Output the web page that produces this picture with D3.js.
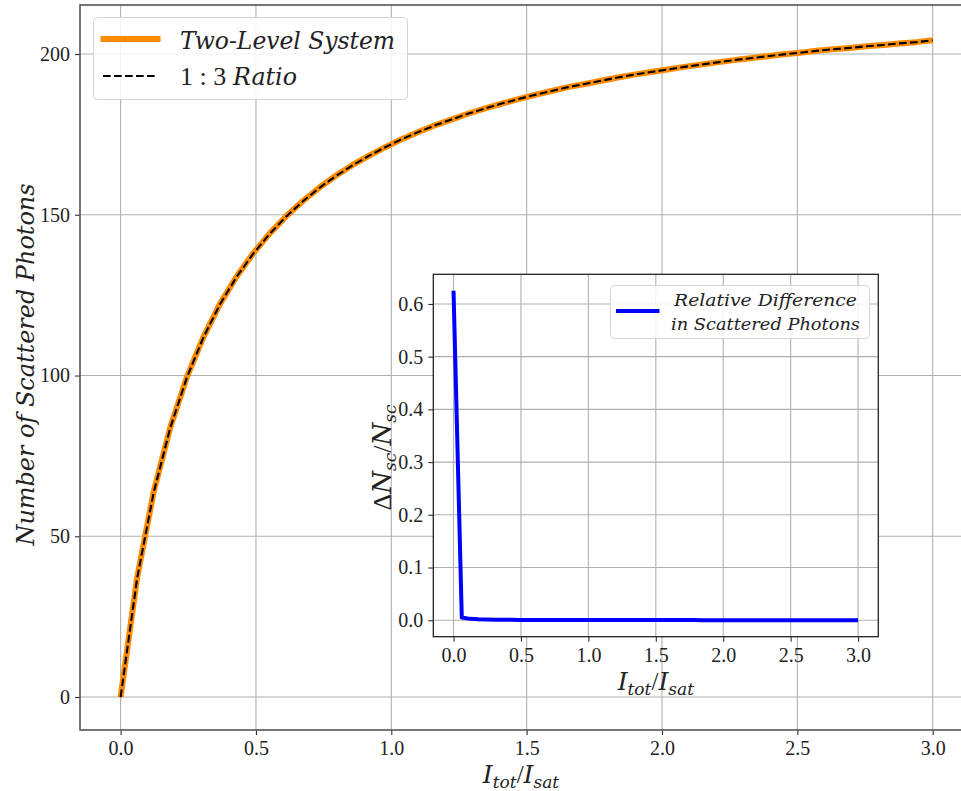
<!DOCTYPE html>
<html><head><meta charset="utf-8">
<script src="https://cdn.jsdelivr.net/npm/d3@7"></script>
<style>body{margin:0;background:#fff;overflow:hidden} text{font-family:"Liberation Serif","DejaVu Serif",serif;fill:#222;} .it{font-family:"DejaVu Serif",serif;font-style:italic;}</style>
</head><body><svg id="c" width="961" height="791"></svg>
<script>
// ---- data ----
const xValues = [0, 0.0612, 0.1224, 0.1837, 0.2449, 0.3061, 0.3673, 0.4286, 0.4898, 0.5510,
  0.6122, 0.6735, 0.7347, 0.7959, 0.8571, 0.9184, 0.9796, 1.0408, 1.1020, 1.1633,
  1.2245, 1.2857, 1.3469, 1.4082, 1.4694, 1.5306, 1.5918, 1.6531, 1.7143, 1.7755,
  1.8367, 1.8980, 1.9592, 2.0204, 2.0816, 2.1429, 2.2041, 2.2653, 2.3265, 2.3878,
  2.4490, 2.5102, 2.5714, 2.6327, 2.6939, 2.7551, 2.8163, 2.8776, 2.9388, 3.0];
const twoLevel = [0, 37.2, 63.9, 83.9, 99.5, 112.0, 122.3, 130.8, 138.0, 144.2,
  149.6, 154.3, 158.5, 162.2, 165.5, 168.4, 171.1, 173.6, 175.8, 177.9,
  179.7, 181.5, 183.1, 184.6, 186.0, 187.3, 188.5, 189.7, 190.7, 191.7,
  192.7, 193.6, 194.4, 195.2, 196.0, 196.7, 197.4, 198.1, 198.7, 199.3,
  199.9, 200.4, 201.0, 201.5, 201.9, 202.4, 202.8, 203.3, 203.7, 204.3];
const ratio13 = [0, 37.0, 63.7, 83.8, 99.4, 111.9, 122.2, 130.7, 137.9, 144.1,
  149.5, 154.2, 158.4, 162.1, 165.4, 168.4, 171.1, 173.6, 175.8, 177.9,
  179.7, 181.5, 183.1, 184.6, 186.0, 187.3, 188.5, 189.7, 190.7, 191.7,
  192.7, 193.6, 194.4, 195.2, 196.0, 196.7, 197.4, 198.1, 198.7, 199.3,
  199.9, 200.4, 201.0, 201.5, 201.9, 202.4, 202.8, 203.3, 203.7, 204.3];
const relDiff = [0.625, 0.005, 0.0026, 0.0017, 0.0013, 0.0010, 0.0008, 0.0007, 0.0006, 0.0005,
  0.0005, 0.0004, 0.0004, 0.0004, 0.0003, 0.0003, 0.0003, 0.0003, 0.0003, 0.0002,
  0.0002, 0.0002, 0.0002, 0.0002, 0.0002, 0.0002, 0.0002, 0.0002, 0.0002, 0.0002,
  0.0001, 0.0001, 0.0001, 0.0001, 0.0001, 0.0001, 0.0001, 0.0001, 0.0001, 0.0001,
  0.0001, 0.0001, 0.0001, 0.0001, 0.0001, 0.0001, 0.0001, 0.0001, 0.0001, 0.0001];
const mainXTicks = [0, 0.5, 1.0, 1.5, 2.0, 2.5, 3.0];
const mainYTicks = [0, 50, 100, 150, 200];
const insetXTicks = [0, 0.5, 1.0, 1.5, 2.0, 2.5, 3.0];
const insetYTicks = [0, 0.1, 0.2, 0.3, 0.4, 0.5, 0.6];
const legendMain = ["Two-Level System", "1 : 3 ", "Ratio"];
const legendInset = ["Relative Difference", "in Scattered Photons"];
const yLabelMain = "Number of Scattered Photons";

const svg = d3.select("#c");
const GRID = "#b0b0b0";

// ---- main axes ----
const M = {l: 80, r: 973.3, t: 5, b: 730};
const x = d3.scaleLinear().domain([-0.15, 3.15]).range([M.l, M.r]);
const y = d3.scaleLinear().domain([-10.25, 215.25]).range([M.b, M.t]);

const gMain = svg.append("g");
gMain.append("g").selectAll("line").data(mainXTicks).join("line")
  .attr("x1", d => x(d)).attr("x2", d => x(d)).attr("y1", M.t).attr("y2", M.b)
  .attr("stroke", GRID).attr("stroke-width", 1.1);
gMain.append("g").selectAll("line").data(mainYTicks).join("line")
  .attr("y1", d => y(d)).attr("y2", d => y(d)).attr("x1", M.l).attr("x2", M.r)
  .attr("stroke", GRID).attr("stroke-width", 1.1);

const lineMain = d3.line().x((d, i) => x(xValues[i])).y(d => y(d));
gMain.append("path").datum(twoLevel).attr("d", lineMain)
  .attr("fill", "none").attr("stroke", "#ff8c00").attr("stroke-width", 6).attr("stroke-linejoin", "round");
gMain.append("path").datum(ratio13).attr("d", lineMain)
  .attr("fill", "none").attr("stroke", "#000").attr("stroke-width", 2.1).attr("stroke-dasharray", "7.7,3.3");

const xAxisMain = d3.axisBottom(x).tickValues(mainXTicks).tickFormat(d3.format(".1f")).tickSize(5).tickPadding(6);
const yAxisMain = d3.axisLeft(y).tickValues(mainYTicks).tickFormat(d3.format("d")).tickSize(5).tickPadding(5);
const gx = gMain.append("g").attr("transform", `translate(0,${M.b})`).call(xAxisMain);
const gy = gMain.append("g").attr("transform", `translate(${M.l},0)`).call(yAxisMain);
[gx, gy].forEach(g => {
  g.select(".domain").remove();
  g.selectAll(".tick line").attr("stroke", "#333").attr("stroke-width", 1.1);
  g.selectAll(".tick text").attr("font-size", 20).attr("fill", "#222").attr("font-family", "Liberation Serif");
});
gMain.append("rect").attr("x", M.l).attr("y", M.t).attr("width", M.r - M.l).attr("height", M.b - M.t)
  .attr("fill", "none").attr("stroke", "#555").attr("stroke-width", 1.6);

// main labels
function ratioLabel(g, cx, by, size, sub) {
  const t = g.append("text").attr("x", cx).attr("y", by).attr("text-anchor", "middle").attr("font-size", size);
  t.append("tspan").attr("class", "it").text("I");
  t.append("tspan").attr("class", "it").attr("font-size", sub).attr("dy", 5).text("tot");
  t.append("tspan").attr("dy", -5).text("/");
  t.append("tspan").attr("class", "it").text("I");
  t.append("tspan").attr("class", "it").attr("font-size", sub).attr("dy", 5).text("sat");
  return t;
}
ratioLabel(gMain, 521, 783, 25, 17);

gMain.append("text").attr("class", "it").attr("transform", `translate(34,${(M.t + M.b) / 2 - 3}) rotate(-90)`)
  .attr("text-anchor", "middle").attr("font-size", 24)
  .attr("textLength", 362).attr("lengthAdjust", "spacingAndGlyphs").text(yLabelMain);

// main legend
const lg = gMain.append("g");
lg.append("rect").attr("x", 93.5).attr("y", 17.5).attr("width", 314).attr("height", 82).attr("rx", 4)
  .attr("fill", "#fff").attr("fill-opacity", 0.85).attr("stroke", "#d5d5d5").attr("stroke-width", 1);
lg.append("line").attr("x1", 100.5).attr("x2", 160.5).attr("y1", 39).attr("y2", 39)
  .attr("stroke", "#ff8c00").attr("stroke-width", 6);
lg.append("line").attr("x1", 103).attr("x2", 158).attr("y1", 76).attr("y2", 76)
  .attr("stroke", "#000").attr("stroke-width", 2.1).attr("stroke-dasharray", "7.7,3.3");
lg.append("text").attr("class", "it").attr("x", 180).attr("y", 48.5).attr("font-size", 24)
  .attr("textLength", 215).attr("lengthAdjust", "spacingAndGlyphs").text(legendMain[0]);
lg.append("text").attr("x", 180).attr("y", 85).attr("font-size", 26).text(legendMain[1]);
lg.append("text").attr("class", "it").attr("x", 233).attr("y", 85).attr("font-size", 24)
  .attr("textLength", 64).attr("lengthAdjust", "spacingAndGlyphs").text(legendMain[2]);

// ---- inset axes ----
const I = {l: 433.3, r: 878.3, t: 274.3, b: 636.7};
const xi = d3.scaleLinear().domain([-0.15, 3.15]).range([I.l, I.r]);
const yi = d3.scaleLinear().domain([-0.03125, 0.65625]).range([I.b, I.t]);
const gIn = svg.append("g");
gIn.append("rect").attr("x", I.l).attr("y", I.t).attr("width", I.r - I.l).attr("height", I.b - I.t).attr("fill", "#fff");
gIn.append("g").selectAll("line").data(insetXTicks).join("line")
  .attr("x1", d => xi(d)).attr("x2", d => xi(d)).attr("y1", I.t).attr("y2", I.b)
  .attr("stroke", GRID).attr("stroke-width", 1.1);
gIn.append("g").selectAll("line").data(insetYTicks).join("line")
  .attr("y1", d => yi(d)).attr("y2", d => yi(d)).attr("x1", I.l).attr("x2", I.r)
  .attr("stroke", GRID).attr("stroke-width", 1.1);
gIn.append("path").datum(relDiff)
  .attr("d", d3.line().x((d, i) => xi(xValues[i])).y(d => yi(d)))
  .attr("fill", "none").attr("stroke", "#0000ff").attr("stroke-width", 4).attr("stroke-linejoin", "round");
const gxi = gIn.append("g").attr("transform", `translate(0,${I.b})`)
  .call(d3.axisBottom(xi).tickValues(insetXTicks).tickFormat(d3.format(".1f")).tickSize(5).tickPadding(6));
const gyi = gIn.append("g").attr("transform", `translate(${I.l},0)`)
  .call(d3.axisLeft(yi).tickValues(insetYTicks).tickFormat(d3.format(".1f")).tickSize(5).tickPadding(5));
[gxi, gyi].forEach(g => {
  g.select(".domain").remove();
  g.selectAll(".tick line").attr("stroke", "#333").attr("stroke-width", 1.1);
  g.selectAll(".tick text").attr("font-size", 20).attr("fill", "#222").attr("font-family", "Liberation Serif");
});
gIn.append("rect").attr("x", I.l).attr("y", I.t).attr("width", I.r - I.l).attr("height", I.b - I.t)
  .attr("fill", "none").attr("stroke", "#222").attr("stroke-width", 1.3);

ratioLabel(gIn, (I.l + I.r) / 2, 690, 25, 17);

const yli = gIn.append("text").attr("transform", `translate(391,${(I.t + I.b) / 2 + 2}) rotate(-90)`)
  .attr("text-anchor", "middle").attr("font-size", 26);
yli.append("tspan").text("Δ");
yli.append("tspan").attr("class", "it").text("N");
yli.append("tspan").attr("class", "it").attr("font-size", 17).attr("dy", 5).text("sc");
yli.append("tspan").attr("dy", -5).text("/");
yli.append("tspan").attr("class", "it").text("N");
yli.append("tspan").attr("class", "it").attr("font-size", 17).attr("dy", 5).text("sc");

const li = gIn.append("g");
li.append("rect").attr("x", 610.5).attr("y", 285.5).attr("width", 259).attr("height", 53).attr("rx", 4)
  .attr("fill", "#fff").attr("fill-opacity", 0.85).attr("stroke", "#d5d5d5").attr("stroke-width", 1);
li.append("line").attr("x1", 616).attr("x2", 659.5).attr("y1", 311).attr("y2", 311)
  .attr("stroke", "#0000ff").attr("stroke-width", 4);
li.append("text").attr("class", "it").attr("x", 674).attr("y", 306).attr("font-size", 17)
  .attr("textLength", 183).attr("lengthAdjust", "spacingAndGlyphs").text(legendInset[0]);
li.append("text").attr("class", "it").attr("x", 671).attr("y", 330).attr("font-size", 17)
  .attr("textLength", 189).attr("lengthAdjust", "spacingAndGlyphs").text(legendInset[1]);
</script></body></html>
